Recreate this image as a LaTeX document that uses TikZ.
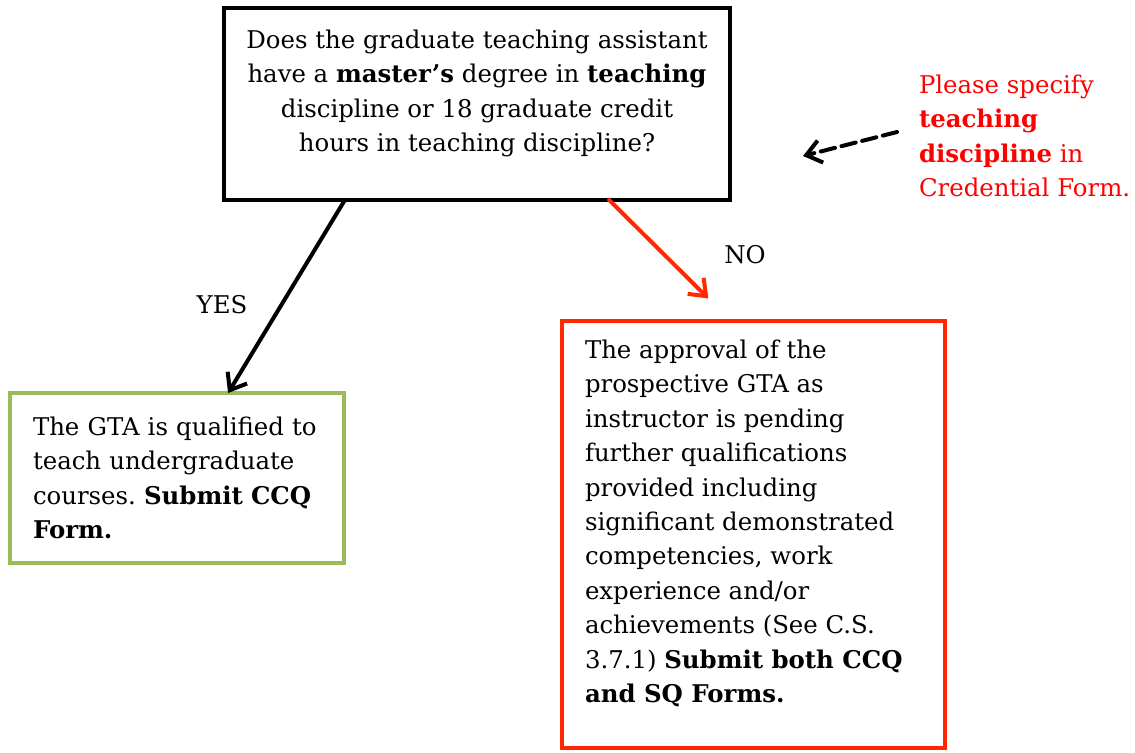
\documentclass[tikz,border=0pt]{standalone}
\usepackage{fontspec}
\setmainfont{DejaVu Serif}
\usetikzlibrary{arrows.meta, positioning}
\definecolor{boxgreen}{RGB}{155,187,89}
\definecolor{boxred}{RGB}{255,40,0}
\newcommand{\flowfont}{\frenchspacing\fontsize{18.3pt}{25.8pt}\selectfont}

\begin{document}
\begin{tikzpicture}[x=0.75pt, y=-0.75pt, line width=3pt,
    main/.style = {draw, rectangle, anchor=north west, inner ysep=0pt, outer sep=0pt, font=\flowfont},
    txt/.style = {inner sep=0pt, font=\flowfont},
    arr/.style = {-{Straight Barb[length=11pt, width=17pt, line width=3pt]}, line cap=round}]
    \useasboundingbox (0,0) rectangle (1135,753);

    \node[main, minimum width=379.5pt, minimum height=144pt] (q) at (224,8) {};
    \node[txt, align=center, below=15pt of q.north] (qtext)
        {Does the graduate teaching assistant\\
         have a \textbf{master’s} degree in \textbf{teaching}\\
         discipline or 18 graduate credit\\
         hours in teaching discipline?};

    \node[main, draw=boxgreen, minimum width=250.5pt, minimum height=127.5pt,
          inner xsep=17.25pt, text width=216pt, align=left] (yesbox) at (10,393)
        {The GTA is qualified to\\
         teach undergraduate\\
         courses. \textbf{Submit CCQ}\\
         \textbf{Form.}};

    \node[main, draw=boxred, minimum width=287.25pt, minimum height=320.25pt,
          inner xsep=15.75pt, text width=255.75pt, align=left] (nobox) at (562,321) {};
    \node[txt, align=left, anchor=north west] (notext) at (583,338)
        {The approval of the\\
         prospective GTA as\\
         instructor is pending\\
         further qualifications\\
         provided including\\
         significant demonstrated\\
         competencies, work\\
         experience and/or\\
         achievements (See C.S.\\
         3.7.1) \textbf{Submit both CCQ}\\
         \textbf{and SQ Forms.}};

    \node[txt, text=red, align=left, anchor=north west] (note) at (917,73)
        {Please specify\\
         \textbf{teaching}\\
         \textbf{discipline} in\\
         Credential Form.};

    \node[txt] (yes) at (222,305) {YES};
    \node[txt] (no) at (745,255) {NO};

    \coordinate (tail) at (897,132);
    \coordinate (tip) at (803,156);

    \draw[arr] (q.216) -- (yesbox.59.5);
    \draw[arr, boxred, shorten >=24pt] (q.324.2) -- (nobox.96.9);
    \draw[arr, dash pattern=on 11pt off 5pt] (tail) -- (tip);
\end{tikzpicture}
\end{document}
